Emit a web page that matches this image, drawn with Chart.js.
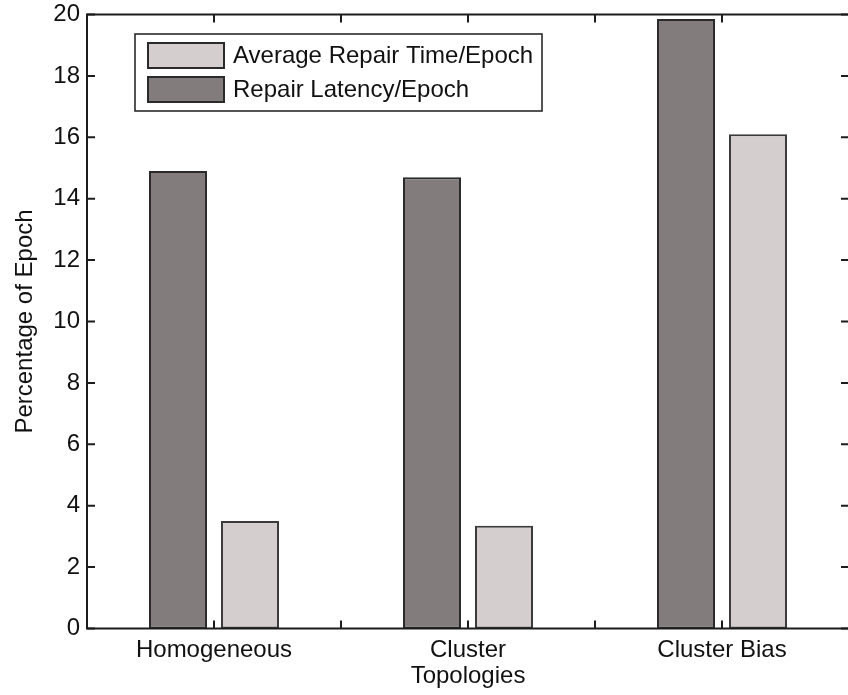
<!DOCTYPE html>
<html>
<head>
<meta charset="utf-8">
<title>Percentage of Epoch by Topology</title>
<script src="https://cdn.jsdelivr.net/npm/chart.js@4.4.1/dist/chart.umd.min.js"></script>
<style>
  html, body { margin: 0; padding: 0; background: #ffffff; overflow: hidden; }
  canvas { display: block; }
</style>
</head>
<body>
<canvas id="chart" width="850" height="695"></canvas>
<script>
// Categories and series values
const topologies = ['Homogeneous', 'Cluster', 'Cluster Bias'];
const repairLatency = [14.9, 14.7, 19.85];
const avgRepairTime = [3.5, 3.35, 16.1];
const seriesNames = ['Repair Latency/Epoch', 'Average Repair Time/Epoch'];
const yTickValues = [0, 2, 4, 6, 8, 10, 12, 14, 16, 18, 20];
const xTitle = 'Topologies';
const yTitle = 'Percentage of Epoch';

const FONT = "'Liberation Sans', Arial, Helvetica, sans-serif";
const INK = '#1c1c1c';
Chart.defaults.font.family = FONT;
Chart.defaults.color = '#111111';

// Frame around the plot with inward tick marks on all four sides
const framePlugin = {
  id: 'frame',
  afterDraw(chart) {
    const { ctx, chartArea: a, scales: { x, y } } = chart;
    const len = 8;
    ctx.save();
    ctx.strokeStyle = INK;
    ctx.lineWidth = 2;
    ctx.beginPath();
    y.ticks.forEach(t => {
      const py = y.getPixelForValue(t.value);
      ctx.moveTo(a.left, py); ctx.lineTo(a.left + len, py);
      ctx.moveTo(a.right, py); ctx.lineTo(a.right - len, py);
    });
    // ticks at category centres and at the boundaries between them
    for (let v = -0.5; v <= topologies.length - 0.5 + 1e-9; v += 0.5) {
      const px = x.getPixelForValue(v);
      ctx.moveTo(px, a.bottom); ctx.lineTo(px, a.bottom - len);
      ctx.moveTo(px, a.top); ctx.lineTo(px, a.top + len);
    }
    ctx.stroke();
    ctx.strokeRect(a.left, a.top, a.right - a.left, a.bottom - a.top);
    ctx.restore();
  }
};

// Boxed legend placed inside the upper-left of the plot
const boxLegendPlugin = {
  id: 'boxLegend',
  afterDraw(chart) {
    const { ctx, chartArea: a } = chart;
    const order = [1, 0];
    const bx = a.left + 48, by = a.top + 19.5, bw = 407, bh = 77;
    ctx.save();
    ctx.fillStyle = '#ffffff';
    ctx.fillRect(bx, by, bw, bh);
    ctx.strokeStyle = INK;
    ctx.lineWidth = 1.5;
    ctx.strokeRect(bx, by, bw, bh);
    ctx.font = '24px ' + FONT;
    ctx.textBaseline = 'middle';
    ctx.textAlign = 'left';
    order.forEach((di, i) => {
      const ds = chart.data.datasets[di];
      const sy = by + 9 + i * 34;
      ctx.fillStyle = ds.backgroundColor;
      ctx.fillRect(bx + 13, sy, 76, 25);
      ctx.lineWidth = 2;
      ctx.strokeStyle = '#2a2a2a';
      ctx.strokeRect(bx + 13, sy, 76, 25);
      ctx.fillStyle = '#111111';
      ctx.fillText(ds.label, bx + 98, sy + 13);
    });
    ctx.restore();
  }
};

new Chart(document.getElementById('chart'), {
  type: 'bar',
  data: {
    labels: topologies,
    datasets: [
      {
        label: seriesNames[0],
        data: repairLatency,
        backgroundColor: '#827c7c',
        borderColor: '#2a2a2a',
        borderWidth: 2,
        borderSkipped: false
      },
      {
        label: seriesNames[1],
        data: avgRepairTime,
        backgroundColor: '#d4cece',
        borderColor: '#3a3a3a',
        borderWidth: 2,
        borderSkipped: false
      }
    ]
  },
  options: {
    responsive: false,
    devicePixelRatio: 1,
    animation: false,
    categoryPercentage: 0.567,
    barPercentage: 0.806,
    layout: { padding: { top: 14.5, right: 1, bottom: 0, left: 0 } },
    plugins: {
      legend: { display: false },
      tooltip: { enabled: false }
    },
    scales: {
      x: {
        type: 'category',
        offset: true,
        grid: { display: false, drawTicks: false },
        border: { display: false },
        ticks: {
          padding: 7,
          maxRotation: 0,
          autoSkip: false,
          color: '#111111',
          font: { size: 24, lineHeight: 1.2 }
        },
        title: {
          display: true,
          text: xTitle,
          color: '#111111',
          font: { size: 24, lineHeight: 1.2 },
          padding: { top: 0, bottom: 4 }
        },
        afterFit(scale) {
          scale.height = 66.5;
          scale.paddingLeft = 0;
          scale.paddingRight = 0;
        }
      },
      y: {
        min: 0,
        max: 20,
        afterBuildTicks(scale) { scale.ticks = yTickValues.map(v => ({ value: v })); },
        grid: { display: false, drawTicks: false },
        border: { display: false },
        ticks: {
          padding: 7,
          color: '#111111',
          font: { size: 24, lineHeight: 1.2 }
        },
        title: {
          display: true,
          text: yTitle,
          color: '#111111',
          font: { size: 24, lineHeight: 1.2 },
          padding: { top: 11, bottom: 0 }
        },
        afterFit(scale) {
          scale.width = 87;
          scale.paddingTop = 0;
          scale.paddingBottom = 0;
        }
      }
    }
  },
  plugins: [framePlugin, boxLegendPlugin]
});
</script>
</body>
</html>
